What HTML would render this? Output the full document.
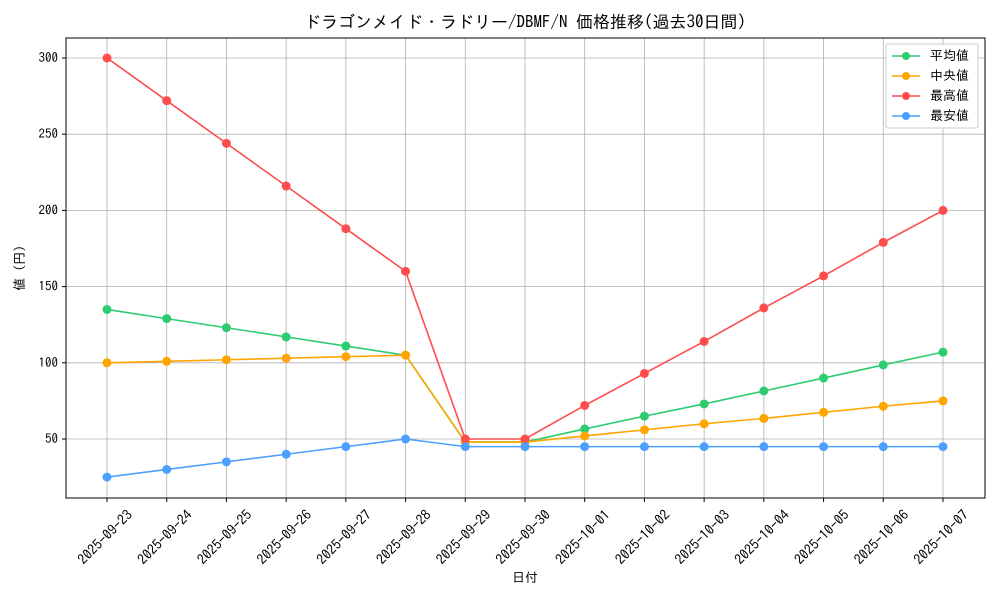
<!DOCTYPE html>
<html><head><meta charset="utf-8"><style>
body{margin:0;background:#fff}
svg{font-family:"IPAGothic","Noto Sans CJK JP",sans-serif}
</style></head><body>
<svg width="1000" height="600" viewBox="0 0 1000 600" xmlns="http://www.w3.org/2000/svg">
<rect width="1000" height="600" fill="#fff"/>
<text x="525" y="28" font-size="17" text-anchor="middle">ドラゴンメイド・ラドリー/DBMF/N 価格推移(過去30日間)</text>
<g id="grid" stroke="#b0b0b0" stroke-width="0.8"></g>
<rect x="66" y="38" width="919" height="460" fill="none" stroke="#000" stroke-width="1"/>
<g id="ticks" font-size="13"></g>
<text x="525" y="582" font-size="13" text-anchor="middle">日付</text>
<text transform="translate(24,268) rotate(-90)" font-size="13" text-anchor="middle">値 (円)</text>
<g id="series"></g>
<g font-size="13">
<rect x="886" y="44" width="92" height="84" fill="#fff" stroke="#ccc" rx="2"/>
<line x1="892" y1="56" x2="920" y2="56" stroke="#2ecc71" stroke-width="1.5"/><circle cx="906" cy="56" r="4" fill="#2ecc71"/><text x="930" y="60">平均値</text>
<line x1="892" y1="76" x2="920" y2="76" stroke="#ffa500" stroke-width="1.5"/><circle cx="906" cy="76" r="4" fill="#ffa500"/><text x="930" y="80"> 中央値</text>
<line x1="892" y1="96" x2="920" y2="96" stroke="#ff4d4d" stroke-width="1.5"/><circle cx="906" cy="96" r="4" fill="#ff4d4d"/><text x="930" y="100">最高値</text>
<line x1="892" y1="116" x2="920" y2="116" stroke="#4d9fff" stroke-width="1.5"/><circle cx="906" cy="116" r="4" fill="#4d9fff"/><text x="930" y="120">最安値</text>
</g>
</svg>
<script>
const ns="http://www.w3.org/2000/svg";
const X=i=>107+i*59.714, Y=v=>439-(v-50)*1.524;
const dates=["2025-09-23","2025-09-24","2025-09-25","2025-09-26","2025-09-27","2025-09-28","2025-09-29","2025-09-30","2025-10-01","2025-10-02","2025-10-03","2025-10-04","2025-10-05","2025-10-06","2025-10-07"];
const g=document.getElementById('grid'),t=document.getElementById('ticks'),s=document.getElementById('series');
function el(p,n,a,txt){const e=document.createElementNS(ns,n);for(const k in a)e.setAttribute(k,a[k]);if(txt)e.textContent=txt;p.appendChild(e);return e;}
dates.forEach((d,i)=>{const x=X(i);el(g,'line',{x1:x,x2:x,y1:38,y2:498});el(t,'line',{x1:x,x2:x,y1:498,y2:502,stroke:'#000'});
el(t,'text',{x:0,y:0,'text-anchor':'middle','dominant-baseline':'central','font-size':14,transform:`translate(${x-2},${537}) rotate(-45)`},d);});
[50,100,150,200,250,300].forEach(v=>{const y=Y(v);el(g,'line',{x1:66,x2:985,y1:y,y2:y});el(t,'line',{x1:62,x2:66,y1:y,y2:y,stroke:'#000'});el(t,'text',{x:58,y:y+4,'text-anchor':'end'},v);});
const data=[
["#2ecc71",[135,129,123,117,111,105,48,48,56.6,65,73,81.5,90,98.6,107]],
["#ffa500",[100,101,102,103,104,105,48,48,52,56,60,63.5,67.5,71.5,75]],
["#ff4d4d",[300,272,244,216,188,160,50,50,72,93,114,136,157,179,200]],
["#4d9fff",[25,30,35,40,45,50,45,45,45,45,45,45,45,45,45]]];
data.forEach(([c,v])=>{el(s,'polyline',{points:v.map((y,i)=>X(i)+','+Y(y)).join(' '),fill:'none',stroke:c,'stroke-width':1.6});
v.forEach((y,i)=>el(s,'circle',{cx:X(i),cy:Y(y),r:4.5,fill:c}));});
</script>
</body></html>
